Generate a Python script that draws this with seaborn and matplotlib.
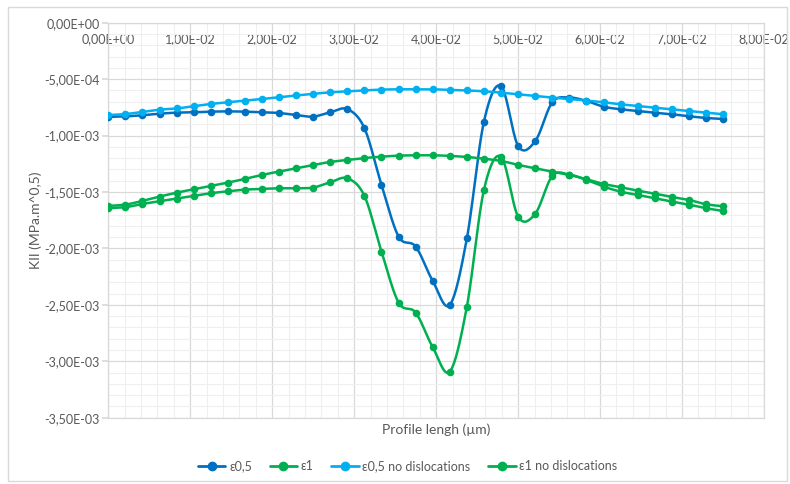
import numpy as np
import pandas as pd
import matplotlib
matplotlib.use("Agg")
import matplotlib.pyplot as plt
import seaborn as sns
from matplotlib.lines import Line2D
from matplotlib.patches import Rectangle
from matplotlib.ticker import MultipleLocator, FuncFormatter

# ---------------- data ----------------
profile = [0, 0.00208, 0.00417, 0.00625, 0.00833, 0.01042, 0.0125, 0.01458, 0.01667,
           0.01875, 0.02083, 0.02292, 0.025, 0.02708, 0.02917, 0.03125, 0.03333, 0.03542,
           0.0375, 0.03958, 0.04167, 0.04375, 0.04583, 0.04792, 0.05, 0.05208, 0.05417,
           0.05625, 0.05833, 0.06042, 0.0625, 0.06458, 0.06667, 0.06875, 0.07083, 0.07292, 0.075]

# values in units of 1e-3 MPa.m^0,5
eps05 = [-0.835, -0.83, -0.82, -0.806, -0.797, -0.794, -0.788, -0.786, -0.788, -0.794,
         -0.80, -0.818, -0.832, -0.794, -0.766, -0.935, -1.436, -1.895, -1.984, -2.288,
         -2.50, -1.91, -0.877, -0.561, -1.092, -1.05, -0.705, -0.664, -0.693, -0.744,
         -0.767, -0.782, -0.797, -0.811, -0.829, -0.844, -0.853]
eps1 = [-1.644, -1.635, -1.606, -1.582, -1.559, -1.535, -1.511, -1.494, -1.479, -1.473,
        -1.467, -1.467, -1.461, -1.414, -1.379, -1.535, -2.028, -2.48, -2.569, -2.875,
        -3.091, -2.515, -1.482, -1.187, -1.718, -1.694, -1.358, -1.346, -1.393, -1.452,
        -1.497, -1.526, -1.555, -1.585, -1.612, -1.644, -1.668]
eps05_nd = [-0.82, -0.81, -0.79, -0.77, -0.76, -0.74, -0.72, -0.705, -0.69, -0.676,
            -0.66, -0.645, -0.63, -0.617, -0.608, -0.60, -0.593, -0.59, -0.59, -0.59,
            -0.596, -0.60, -0.608, -0.62, -0.634, -0.649, -0.664, -0.676, -0.69, -0.705,
            -0.723, -0.738, -0.753, -0.767, -0.782, -0.797, -0.811]
eps1_nd = [-1.623, -1.612, -1.579, -1.541, -1.506, -1.476, -1.446, -1.417, -1.384, -1.349,
           -1.319, -1.29, -1.26, -1.234, -1.216, -1.199, -1.187, -1.178, -1.175, -1.175,
           -1.18, -1.19, -1.205, -1.225, -1.26, -1.29, -1.319, -1.349, -1.387, -1.429,
           -1.458, -1.488, -1.514, -1.544, -1.57, -1.609, -1.626]

series_names = ["ε0,5", "ε1", "ε0,5 no dislocations", "ε1 no dislocations"]
series_vals = [eps05, eps1, eps05_nd, eps1_nd]
colors = ["#0070C0", "#00B050", "#00B0F0", "#00B050"]

df = pd.concat([pd.DataFrame({"x": profile, "y": np.array(v) * 1e-3, "series": n})
                for n, v in zip(series_names, series_vals)], ignore_index=True)

# ---------------- style ----------------
sns.set_theme(style="white")
plt.rcParams["font.family"] = ["Lato", "DejaVu Sans"]
txt = "#595959"

fig = plt.figure(figsize=(7.9, 4.84), dpi=100)
ax = fig.add_axes([108.3 / 790, 1 - 417.7 / 484, (764 - 108.3) / 790, (417.7 - 22.7) / 484])

# outer chart border
fig.patches.append(Rectangle((8 / 790, 3 / 484), 779 / 790, 474 / 484, transform=fig.transFigure,
                             fill=False, edgecolor="#D9D9D9", linewidth=1.0))


def smooth(xs, ys, n=20):
    """Excel-like smoothed line (cubic Bezier through points)."""
    P = np.column_stack([xs, ys])
    out = []
    t = np.linspace(0, 1, n)[:, None]
    for i in range(len(P) - 1):
        p0 = P[i - 1] if i > 0 else P[i]
        p1, p2 = P[i], P[i + 1]
        p3 = P[i + 2] if i + 2 < len(P) else P[i + 1]
        c1 = p1 + (p2 - p0) / 6
        c2 = p2 - (p3 - p1) / 6
        seg = ((1 - t) ** 3) * p1 + 3 * ((1 - t) ** 2) * t * c1 + 3 * (1 - t) * t ** 2 * c2 + t ** 3 * p2
        out.append(seg if i == 0 else seg[1:])
    S = np.vstack(out)
    return S[:, 0], S[:, 1]


for name, col in zip(series_names, colors):
    sub = df[df["series"] == name]
    sx, sy = smooth(sub["x"].to_numpy(), sub["y"].to_numpy())
    ax.plot(sx, sy, color=col, lw=1.8, zorder=3, solid_capstyle="round")
    sns.scatterplot(data=sub, x="x", y="y", color=col, s=30, edgecolor=col, linewidth=0,
                    ax=ax, zorder=4, legend=False)

ax.set_xlim(0, 0.08)
ax.set_ylim(-0.0035, 0)
ax.xaxis.set_major_locator(MultipleLocator(0.01))
ax.xaxis.set_minor_locator(MultipleLocator(0.002))
ax.yaxis.set_major_locator(MultipleLocator(0.0005))
ax.yaxis.set_minor_locator(MultipleLocator(0.0001))


def sci_comma(v, pos):
    if abs(v) < 1e-12:
        return "0,00E+00"
    s = f"{v:.2E}"
    return s.replace(".", ",")


ax.xaxis.set_major_formatter(FuncFormatter(sci_comma))
ax.yaxis.set_major_formatter(FuncFormatter(sci_comma))

ax.grid(which="major", color="#D9D9D9", lw=0.9)
ax.grid(which="minor", color="#EFEFEF", lw=0.8)
ax.set_axisbelow(True)
for s in ax.spines.values():
    s.set_color("#D9D9D9")
    s.set_linewidth(0.9)

ax.xaxis.tick_top()
ax.tick_params(axis="x", which="major", top=True, bottom=False, labeltop=True, labelbottom=False,
               direction="in", length=0, pad=-16, labelsize=9, labelcolor=txt)
ax.tick_params(axis="x", which="minor", top=False, bottom=False)
ax.tick_params(axis="y", which="major", left=True, length=4, color="#D9D9D9", pad=2,
               labelsize=9, labelcolor=txt)
ax.tick_params(axis="y", which="minor", left=False)

ax.set_xlabel("Profile lengh (µm)", fontsize=10, color=txt, labelpad=4)
ax.xaxis.set_label_position("bottom")
ax.set_ylabel("KII (MPa.m^0,5)", fontsize=10, color=txt, labelpad=2)

handles = [Line2D([0], [0], color=c, lw=2, marker="o", markersize=6) for c in colors]
fig.legend(handles, series_names, loc="center", bbox_to_anchor=(0.516, 1 - 466 / 484), ncol=4,
           frameon=False, fontsize=9, labelcolor=txt, handlelength=2.2, columnspacing=1.4,
           handletextpad=0.3)

fig.savefig("out.png", dpi=100)
